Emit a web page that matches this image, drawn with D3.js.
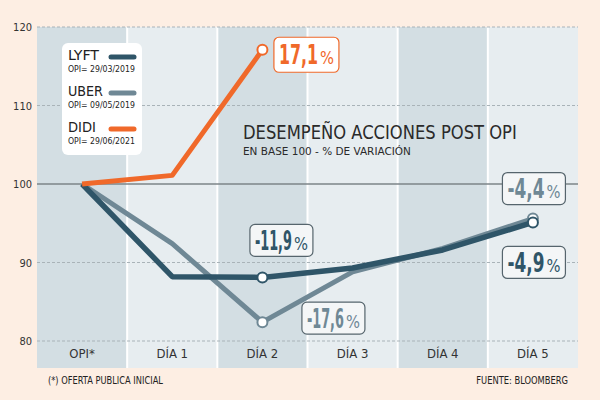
<!DOCTYPE html>
<html>
<head>
<meta charset="utf-8">
<script src="https://cdn.jsdelivr.net/npm/d3@7"></script>
<style>
  body { margin: 0; background: #fdeee3; }
  svg { display: block; font-family: "DejaVu Sans Condensed", "Liberation Sans Narrow", sans-serif; }
</style>
</head>
<body>
<div id="chart"></div>
<script>
// data
var categories = ["OPI*", "DÍA 1", "DÍA 2", "DÍA 3", "DÍA 4", "DÍA 5"];
var lyft = [100, 88.2, 88.1, 89.3, 91.6, 95.1];
var uber = [100, 92.4, 82.4, 88.8, 91.8, 95.6];
var didi = [100, 101.1, 117.1];
var yTicks = [80, 90, 100, 110, 120];
var seriesNames = ["LYFT", "UBER", "DIDI"];
var opiDates = ["OPI= 29/03/2019", "OPI= 09/05/2019", "OPI= 29/06/2021"];

var width = 600, height = 400;
var colors = { LYFT: "#2f5568", UBER: "#6f8895", DIDI: "#f0692a" };

var svg = d3.select("#chart").append("svg")
    .attr("width", width)
    .attr("height", height);

svg.append("rect").attr("width", width).attr("height", height).attr("fill", "#fdeee3");

var x = d3.scaleBand().domain(categories).range([37, 578]).paddingInner(0);
var y = d3.scaleLinear().domain([80, 120]).range([341, 27]);
var cx = function (c) { return x(c) + x.bandwidth() / 2; };

// squeeze a text horizontally so it is exactly w wide
function squeeze(sel, x0, y0, w, anchor) {
    var len = sel.node().getComputedTextLength();
    var k = w / len;
    sel.attr("text-anchor", anchor || "start")
        .attr("transform", "translate(" + x0 + "," + y0 + ") scale(" + k + ",1)");
    return sel;
}

// column bands
svg.selectAll(".band")
    .data(categories)
    .enter().append("rect")
    .attr("x", function (d) { return x(d); })
    .attr("y", y(120))
    .attr("width", x.bandwidth())
    .attr("height", 368 - y(120))
    .attr("fill", function (d, i) { return i % 2 == 0 ? "#d3dee3" : "#e7edf0"; });

// white separators
svg.selectAll(".sep")
    .data(categories.slice(1))
    .enter().append("line")
    .attr("x1", function (d) { return x(d); })
    .attr("x2", function (d) { return x(d); })
    .attr("y1", y(120)).attr("y2", 368)
    .attr("stroke", "#ffffff").attr("stroke-width", 2);

// grid lines
svg.selectAll(".grid")
    .data(yTicks)
    .enter().append("line")
    .attr("x1", 37).attr("x2", 578)
    .attr("y1", function (d) { return y(d); })
    .attr("y2", function (d) { return y(d); })
    .attr("stroke", function (d) { return d == 100 ? "#7d8589" : "#a9b3b8"; })
    .attr("stroke-width", function (d) { return d == 100 ? 1.5 : 1; })
    .attr("stroke-dasharray", function (d) { return d == 100 ? null : "3,2"; });

// y tick labels
svg.selectAll(".ytick")
    .data(yTicks)
    .enter().append("text")
    .attr("x", 32)
    .attr("y", function (d) { return y(d) + 4; })
    .attr("text-anchor", "end")
    .style("font-size", "11px")
    .attr("fill", "#333")
    .text(function (d) { return d; });

// x labels
svg.selectAll(".xlab")
    .data(categories)
    .enter().append("text")
    .attr("x", function (d) { return cx(d); })
    .attr("y", 358)
    .attr("text-anchor", "middle")
    .style("font-size", "13px")
    .attr("fill", "#333")
    .text(function (d) { return d; });

// title
squeeze(svg.append("text")
    .style("font-size", "20px")
    .style("font-weight", "300")
    .attr("fill", "#2a2a2a")
    .text("DESEMPEÑO ACCIONES POST OPI"), 243, 139, 274);
squeeze(svg.append("text")
    .style("font-size", "11px")
    .attr("fill", "#2a2a2a")
    .text("EN BASE 100 - % DE VARIACIÓN"), 243, 155, 168);

// lines
var line = d3.line()
    .x(function (d, i) { return cx(categories[i]); })
    .y(function (d) { return y(d); });

var series = [
    { name: "UBER", values: uber, width: 5 },
    { name: "LYFT", values: lyft, width: 5.5 },
    { name: "DIDI", values: didi, width: 5 }
];

series.forEach(function (s) {
    svg.append("path")
        .datum(s.values)
        .attr("fill", "none")
        .attr("stroke", colors[s.name])
        .attr("stroke-width", s.width)
        .attr("stroke-linejoin", "round")
        .attr("d", line);
});

// highlighted points and value boxes
var callouts = [
    { name: "UBER", i: 5, dx: 1, dy: -30 },
    { name: "LYFT", i: 5, dx: 1, dy: 40 },
    { name: "LYFT", i: 2, dx: 19, dy: -37 },
    { name: "UBER", i: 2, dx: 71, dy: -4 },
    { name: "DIDI", i: 2, dx: 44, dy: 5 }
];
var valuesOf = { LYFT: lyft, UBER: uber, DIDI: didi };

callouts.forEach(function (c) {
    var v = valuesOf[c.name][c.i];
    var px = cx(categories[c.i]), py = y(v);
    svg.append("circle")
        .attr("cx", px).attr("cy", py).attr("r", 5)
        .attr("fill", "#ffffff")
        .attr("stroke", colors[c.name])
        .attr("stroke-width", 2);
});

callouts.forEach(function (c) {
    var v = valuesOf[c.name][c.i];
    var px = cx(categories[c.i]), py = y(v);
    var bx = px + c.dx, by = py + c.dy;
    var g = svg.append("g").attr("transform", "translate(" + bx + "," + by + ")");
    var isDidi = c.name == "DIDI";
    var bw = isDidi ? 65 : 63, bh = isDidi ? 35 : 32;
    var fill = isDidi ? colors.DIDI : colors[c.name];
    g.append("rect")
        .attr("x", -bw / 2).attr("y", -bh / 2)
        .attr("width", bw).attr("height", bh)
        .attr("rx", 5)
        .attr("fill", isDidi ? "#ffffff" : "#f4f6f7")
        .attr("stroke", isDidi ? colors.DIDI : "#56656d")
        .attr("stroke-width", 1.2);
    var pct = (v - 100).toFixed(1).replace(".", ",");
    var right = bw / 2 - 4;
    squeeze(g.append("text")
        .attr("fill", fill)
        .style("font-size", "27px")
        .style("font-weight", "bold")
        .text(pct), right - 17, 9.5, bw - 26, "end");
    squeeze(g.append("text")
        .attr("fill", fill)
        .style("font-size", "17px")
        .text("%"), right - 15, 9.5, 14);
});

// legend
var lg = svg.append("g");
lg.append("rect")
    .attr("x", 62).attr("y", 43)
    .attr("width", 80).attr("height", 112)
    .attr("rx", 6)
    .attr("fill", "#ffffff");

var nameLengths = [31, 35, 28];
seriesNames.forEach(function (n, i) {
    var base = [60, 96, 132][i];
    squeeze(lg.append("text")
        .style("font-size", "14px")
        .attr("fill", "#222")
        .text(n), 68, base, nameLengths[i]);
    squeeze(lg.append("text")
        .style("font-size", "9px")
        .attr("fill", "#222")
        .text(opiDates[i]), 68, base + 12, 67);
    lg.append("line")
        .attr("x1", 111).attr("x2", 134)
        .attr("y1", base - 3).attr("y2", base - 3)
        .attr("stroke", colors[n])
        .attr("stroke-width", 5)
        .attr("stroke-linecap", "round");
});

// footer
squeeze(svg.append("text")
    .style("font-size", "10px")
    .attr("fill", "#222")
    .text("(*) OFERTA PUBLICA INICIAL"), 48, 384, 115);
squeeze(svg.append("text")
    .style("font-size", "10px")
    .attr("fill", "#222")
    .text("FUENTE: BLOOMBERG"), 568, 384, 92, "end");
</script>
</body>
</html>
